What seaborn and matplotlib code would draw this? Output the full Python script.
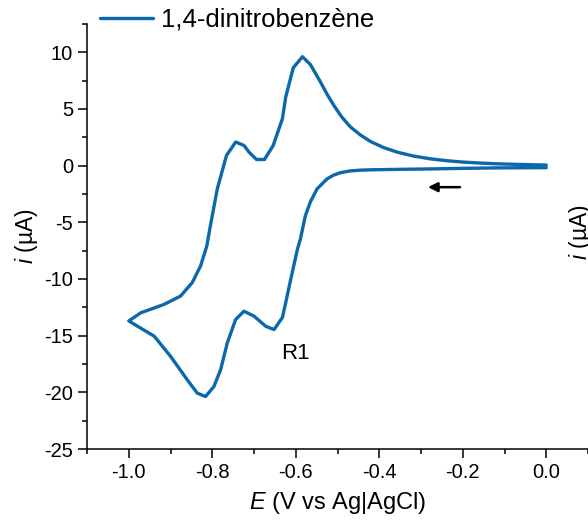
import numpy as np
import pandas as pd
import seaborn as sns
import matplotlib
matplotlib.use("Agg")
import matplotlib.pyplot as plt
from matplotlib.ticker import MultipleLocator

# Cyclic voltammogram of 1,4-dinitrobenzene
# cathodic scan, 0 V -> -1.0 V
e_fwd = [0.0, -0.118, -0.199, -0.278, -0.357, -0.421, -0.445, -0.47, -0.493, -0.51, -0.525, -0.549,
         -0.565, -0.577, -0.589, -0.596, -0.612, -0.624, -0.632, -0.652, -0.672, -0.700,
         -0.724, -0.744, -0.764, -0.780, -0.796, -0.816, -0.836, -0.860, -0.900, -0.939,
         -0.979, -1.0]
i_fwd = [-0.18, -0.20, -0.24, -0.29, -0.33, -0.37, -0.40, -0.47, -0.62, -0.85, -1.17, -2.05,
         -3.2, -4.42, -6.49, -7.37, -10.03, -12.07, -13.4, -14.46, -14.17, -13.28,
         -12.84, -13.57, -15.64, -18.0, -19.48, -20.37, -20.07, -18.89, -16.82, -15.05,
         -14.17, -13.7]
# anodic scan, -1.0 V -> 0 V
e_rev = [-1.0, -0.971, -0.916, -0.876, -0.848, -0.828, -0.813, -0.806, -0.788, -0.766,
         -0.744, -0.724, -0.712, -0.694, -0.675, -0.654, -0.632, -0.624, -0.606, -0.584,
         -0.565, -0.541, -0.525, -0.509, -0.49, -0.469, -0.445, -0.421, -0.39, -0.357,
         -0.32, -0.278, -0.24, -0.198, -0.16, -0.118, -0.06, 0.0]
i_rev = [-13.7, -12.98, -12.25, -11.51, -10.32, -8.85, -7.08, -5.60, -2.06, 0.89,
         2.08, 1.78, 1.19, 0.54, 0.54, 1.78, 4.14, 6.06, 8.63, 9.61,
         8.92, 7.39, 6.3, 5.32, 4.3, 3.41, 2.7, 2.13, 1.6, 1.19,
         0.86, 0.60, 0.44, 0.31, 0.23, 0.16, 0.1, 0.05]

cv = pd.DataFrame({"E": e_fwd + e_rev, "i": i_fwd + i_rev})

sns.set_style("ticks")
plt.rcParams['font.family'] = ['Liberation Sans', 'DejaVu Sans']
plt.rcParams['mathtext.fontset'] = 'custom'
plt.rcParams['mathtext.rm'] = 'Liberation Sans'
plt.rcParams['mathtext.it'] = 'Liberation Sans:italic'
plt.rcParams['text.color'] = 'black'
plt.rcParams['axes.labelcolor'] = 'black'
plt.rcParams['xtick.color'] = 'black'
plt.rcParams['ytick.color'] = 'black'

fig = plt.figure(figsize=(5.88, 5.32), dpi=100)
ax = fig.add_axes([0.148, 0.156, 0.852, 0.799])

sns.lineplot(data=cv, x="E", y="i", sort=False, estimator=None, color="#0b68aa",
             linewidth=2.4, label="1,4-dinitrobenzène", ax=ax)

ax.set_xlim(-1.1, 0.1)
ax.set_ylim(-25, 12.5)
ax.xaxis.set_minor_locator(MultipleLocator(0.1))
ax.yaxis.set_minor_locator(MultipleLocator(2.5))
ax.set_xticks([-1.0, -0.8, -0.6, -0.4, -0.2, 0.0])
ax.set_xticklabels(["-1.0", "-0.8", "-0.6", "-0.4", "-0.2", "0.0"])
ax.set_yticks([-25, -20, -15, -10, -5, 0, 5, 10])
ax.set_yticklabels(["-25", "-20", "-15", "-10", "-5", "0", "5", "10"])
ax.tick_params(which="major", length=6.5, width=1.1, labelsize=14.5, pad=3.5)
ax.tick_params(which="minor", length=3.5, width=1.1)
sns.despine(ax=ax)
for s in ["left", "bottom"]:
    ax.spines[s].set_linewidth(1.1)
    ax.spines[s].set_color("black")

ax.set_xlabel("$E$ (V vs Ag|AgCl)", fontsize=17, labelpad=6)
ax.set_ylabel("$i$ (µA)", fontsize=16.5, labelpad=3)

ax.legend(loc="center left", bbox_to_anchor=(100 / 588, 1 - 20 / 532), bbox_transform=fig.transFigure,
          frameon=False, fontsize=18.5, handlelength=2.05, handletextpad=0.32,
          borderaxespad=0, borderpad=0)

ax.text(-0.6, -16.6, "R1", fontsize=16, ha="center", va="center")
ax.annotate("", xy=(-0.29, -1.9), xytext=(-0.2, -1.9),
            arrowprops=dict(arrowstyle="-|>", color="black", lw=1.8, mutation_scale=14))

# ylabel of the neighbouring panel, clipped at the right edge
fig.text(0.988, 1 - 232 / 532, "$i$ (µA)", fontsize=16.5, rotation=90, ha="center", va="center")

fig.savefig("out.png", dpi=100)
